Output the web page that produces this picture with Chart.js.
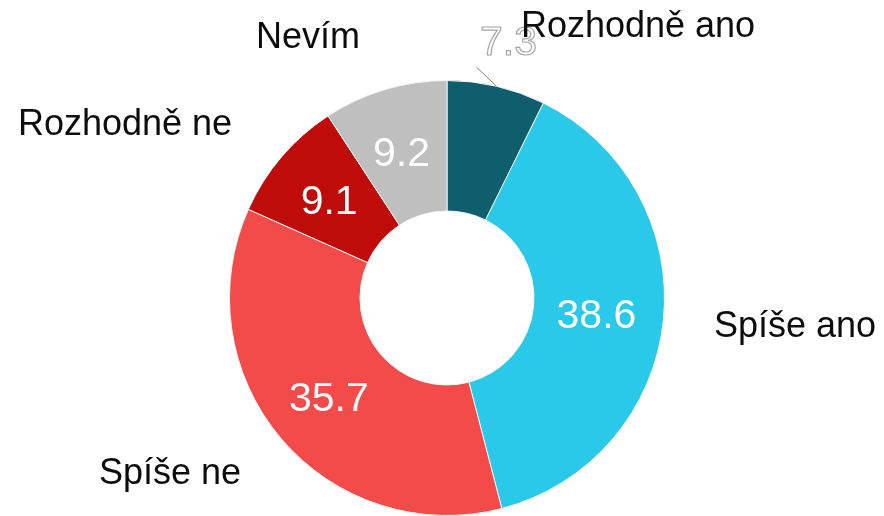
<!DOCTYPE html>
<html lang="cs">
<head>
<meta charset="utf-8">
<title>Rozhodně ano / ne</title>
<script src="https://cdn.jsdelivr.net/npm/chart.js@4/dist/chart.umd.min.js"></script>
<style>
  html, body { margin: 0; padding: 0; background: #fff; }
  #wrap { width: 884px; height: 516px; }
</style>
</head>
<body>
<div id="wrap"><canvas id="donut" width="884" height="516"></canvas></div>
<script>
'use strict';

/* ── Data ── */
const categories = ['Rozhodně ano', 'Spíše ano', 'Spíše ne', 'Rozhodně ne', 'Nevím'];
const shares     = [7.3, 38.6, 35.7, 9.1, 9.2];
const colors     = ['#0f5e6d', '#2ac8e9', '#f34a4a', '#c00b0b', '#bfbfbf'];

/* ── Category label placement (offset from chart centre, text baseline) ── */
const labelOffsets = [
  { dx:  191, dy: -261 },
  { dx:  348, dy:   39 },
  { dx: -277, dy:  186 },
  { dx: -322, dy: -163 },
  { dx: -139, dy: -250 },
];

const FONT = "'Liberation Sans', Arial, sans-serif";

/* ── Labels plugin: values inside the ring, categories around it ── */
const donutLabels = {
  id: 'donutLabels',
  afterDatasetsDraw(chart) {
    const { ctx } = chart;
    const meta = chart.getDatasetMeta(0);
    const ds = chart.data.datasets[0];

    meta.data.forEach((arc, i) => {
      const { x, y, startAngle, endAngle, innerRadius, outerRadius } =
        arc.getProps(['x', 'y', 'startAngle', 'endAngle', 'innerRadius', 'outerRadius'], true);
      const mid = (startAngle + endAngle) / 2;
      const txt = ds.data[i].toFixed(1);

      ctx.save();
      ctx.font = `41px ${FONT}`;
      ctx.textAlign = 'center';
      ctx.textBaseline = 'middle';

      if (ds.data[i] < 8) {
        // small slice: label outside with a leader line
        const sx = x + Math.cos(mid) * outerRadius;
        const sy = y + Math.sin(mid) * outerRadius;
        const ex = sx - 20, ey = sy - 19;
        ctx.strokeStyle = '#7f7f7f';
        ctx.lineWidth = 1;
        ctx.beginPath();
        ctx.moveTo(sx, sy);
        ctx.lineTo(ex, ey);
        ctx.stroke();
        ctx.fillStyle = '#ffffff';
        ctx.fillText(txt, ex + 32, ey - 24);
        ctx.strokeStyle = '#a6a6a6';
        ctx.lineWidth = 1.2;
        ctx.strokeText(txt, ex + 32, ey - 24);
      } else {
        const r = (innerRadius + outerRadius) / 2;
        ctx.fillStyle = '#fdfdfd';
        ctx.fillText(txt, x + Math.cos(mid) * r - 2, y + Math.sin(mid) * r + 3);
      }

      // category name
      const off = labelOffsets[i];
      ctx.font = `36px ${FONT}`;
      ctx.textBaseline = 'alphabetic';
      ctx.fillStyle = '#0d0d0d';
      ctx.fillText(chart.data.labels[i], x + off.dx, y + off.dy);
      ctx.restore();
    });
  },
};

new Chart(document.getElementById('donut'), {
  type: 'doughnut',
  data: {
    labels: categories,
    datasets: [{
      data: shares,
      backgroundColor: colors,
      borderColor: '#f4f4f4',
      borderWidth: 1,
    }],
  },
  options: {
    responsive: false,
    animation: false,
    cutout: '40%',
    layout: { padding: { left: 229, right: 219, top: 80, bottom: 0 } },
    plugins: {
      legend: { display: false },
      tooltip: { enabled: false },
    },
  },
  plugins: [donutLabels],
});
</script>
</body>
</html>
